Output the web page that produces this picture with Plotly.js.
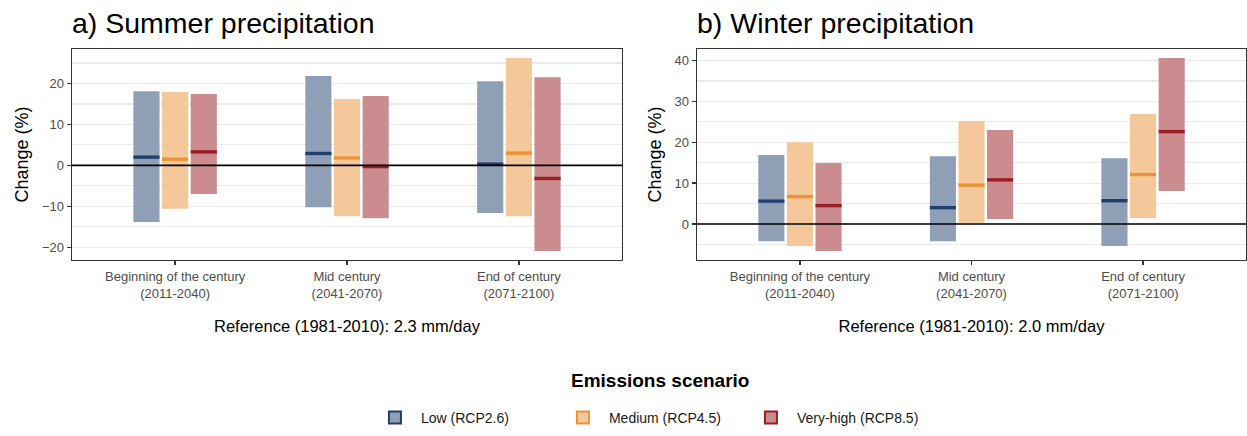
<!DOCTYPE html>
<html><head><meta charset="utf-8">
<script src="https://cdn.plot.ly/plotly-3.0.1.min.js"></script>
<style>html,body{margin:0;padding:0;background:#fff}#chart{width:1247px;height:436px}</style>
</head><body><div id="chart"></div>
<script>
// Categories and tick labels
const periods = ["Beginning of the century<br>(2011-2040)", "Mid century<br>(2041-2070)", "End of century<br>(2071-2100)"];
const scenarios = ["Low (RCP2.6)", "Medium (RCP4.5)", "Very-high (RCP8.5)"];

// Summer precipitation change (%): min, median, max per period
const summerLowMin  = [-13.8, -10.2, -11.6];
const summerLowMed  = [2.0, 2.9, 0.3];
const summerLowMax  = [18.1, 21.8, 20.5];
const summerMedMin  = [-10.6, -12.4, -12.4];
const summerMedMed  = [1.5, 1.8, 3.0];
const summerMedMax  = [17.9, 16.2, 26.2];
const summerHighMin = [-7.0, -12.9, -20.9];
const summerHighMed = [3.3, -0.3, -3.2];
const summerHighMax = [17.4, 16.9, 21.5];

// Winter precipitation change (%)
const winterLowMin  = [-4.2, -4.2, -5.4];
const winterLowMed  = [5.6, 4.0, 5.7];
const winterLowMax  = [16.9, 16.6, 16.1];
const winterMedMin  = [-5.4, 0.3, 1.5];
const winterMedMed  = [6.7, 9.5, 12.1];
const winterMedMax  = [20.0, 25.2, 26.9];
const winterHighMin = [-6.6, 1.2, 8.1];
const winterHighMed = [4.5, 10.8, 22.6];
const winterHighMax = [14.9, 23.0, 40.6];

const darkCols = ["#213f6e", "#ef9236", "#9b1d22"];
const fillCols = ["#8f9fb6", "#f5c89c", "#ca8c8f"];

const FONT = "Liberation Sans, Arial, sans-serif";
const slot = 0.1667, barW = 0.152;

const panels = [
  {xa: "x", ya: "y", mins: [summerLowMin, summerMedMin, summerHighMin], meds: [summerLowMed, summerMedMed, summerHighMed], maxs: [summerLowMax, summerMedMax, summerHighMax]},
  {xa: "x2", ya: "y2", mins: [winterLowMin, winterMedMin, winterHighMin], meds: [winterLowMed, winterMedMed, winterHighMed], maxs: [winterLowMax, winterMedMax, winterHighMax]}
];

const traces = [];
panels.forEach(p => {
  for (let s = 0; s < 3; s++) {
    const xs = periods.map((_, i) => i + 1 + (s - 1) * slot);
    traces.push({
      type: "bar", xaxis: p.xa, yaxis: p.ya, x: xs,
      base: p.mins[s], y: p.maxs[s].map((v, i) => v - p.mins[s][i]),
      width: barW, marker: {color: fillCols[s], line: {width: 0}},
      showlegend: false, hoverinfo: "skip"
    });
  }
});
panels.forEach(p => {
  for (let s = 0; s < 3; s++) {
    const lx = [], ly = [];
    periods.forEach((_, i) => {
      const c = i + 1 + (s - 1) * slot;
      lx.push(c - barW / 2, c + barW / 2, null);
      ly.push(p.meds[s][i], p.meds[s][i], null);
    });
    traces.push({
      type: "scatter", mode: "lines", xaxis: p.xa, yaxis: p.ya, x: lx, y: ly,
      line: {color: darkCols[s], width: 3.4}, showlegend: false, hoverinfo: "skip"
    });
  }
});
// legend entries
scenarios.forEach((name, s) => {
  traces.push({
    type: "bar", x: [null], y: [null], name: name, xaxis: "x", yaxis: "y",
    marker: {color: fillCols[s], line: {color: darkCols[s], width: 2}}, showlegend: true
  });
});

const xCommon = {
  range: [0.4, 3.6], tickvals: [1, 2, 3], ticktext: periods,
  ticks: "outside", ticklen: 4, tickwidth: 1.3, tickcolor: "#333",
  showline: true, linecolor: "#333", linewidth: 1.4, mirror: true,
  showgrid: false, zeroline: false,
  tickfont: {size: 13, color: "#4d4d4d", family: FONT}
};
const yCommon = {
  dtick: 10, ticks: "outside", ticklen: 4, tickwidth: 1.3, tickcolor: "#333",
  showline: true, linecolor: "#333", linewidth: 1.4, mirror: true,
  showgrid: true, gridcolor: "#ebebeb", gridwidth: 1.2, zeroline: false,
  minor: {dtick: 5, showgrid: true, gridcolor: "#ebebeb", gridwidth: 1.2},
  tickfont: {size: 13, color: "#4d4d4d", family: FONT},
  title: {text: "Change (%)", font: {size: 18, color: "#000", family: FONT}, standoff: 8}
};

const layout = {
  width: 1247, height: 436,
  margin: {l: 0, r: 0, t: 0, b: 0},
  paper_bgcolor: "#fff", plot_bgcolor: "#fff",
  font: {family: FONT},
  barmode: "overlay",
  xaxis: Object.assign({}, xCommon, {domain: [72/1247, 622/1247], anchor: "y",
    title: {text: "Reference (1981-2010): 2.3 mm/day", font: {size: 16.5, color: "#000", family: FONT}, standoff: 20}}),
  xaxis2: Object.assign({}, xCommon, {domain: [697/1247, 1246/1247], anchor: "y2",
    title: {text: "Reference (1981-2010): 2.0 mm/day", font: {size: 16.5, color: "#000", family: FONT}, standoff: 20}}),
  yaxis: Object.assign({}, yCommon, {domain: [176/436, 387/436], range: [-23.1, 28.4], anchor: "x"}),
  yaxis2: Object.assign({}, yCommon, {domain: [176/436, 387/436], range: [-8.8, 42.8], anchor: "x2"}),
  shapes: [
    {type: "line", xref: "x domain", x0: 0, x1: 1, yref: "y", y0: 0, y1: 0, line: {color: "#000", width: 1.6}, layer: "above"},
    {type: "line", xref: "x2 domain", x0: 0, x1: 1, yref: "y2", y0: 0, y1: 0, line: {color: "#000", width: 1.6}, layer: "above"}
  ],
  annotations: [
    {text: "a) Summer precipitation", xref: "paper", yref: "paper", x: 70/1247, y: 413/436, xanchor: "left", yanchor: "middle", showarrow: false, font: {size: 28.5, color: "#000", family: FONT}},
    {text: "b) Winter precipitation", xref: "paper", yref: "paper", x: 695/1247, y: 413/436, xanchor: "left", yanchor: "middle", showarrow: false, font: {size: 28.5, color: "#000", family: FONT}},
    {text: "<b>Emissions scenario</b>", xref: "paper", yref: "paper", x: 660/1247, y: 56/436, xanchor: "center", yanchor: "middle", showarrow: false, font: {size: 19, color: "#000", family: FONT}}
  ],
  legend: {
    orientation: "h", x: 0.522, xanchor: "center", y: 18/436, yanchor: "middle",
    font: {size: 14, color: "#1a1a1a", family: FONT}, traceorder: "normal",
    itemwidth: 42, entrywidth: 131, entrywidthmode: "pixels"
  }
};

Plotly.newPlot("chart", traces, layout, {staticPlot: true, displayModeBar: false});
</script>
</body></html>
